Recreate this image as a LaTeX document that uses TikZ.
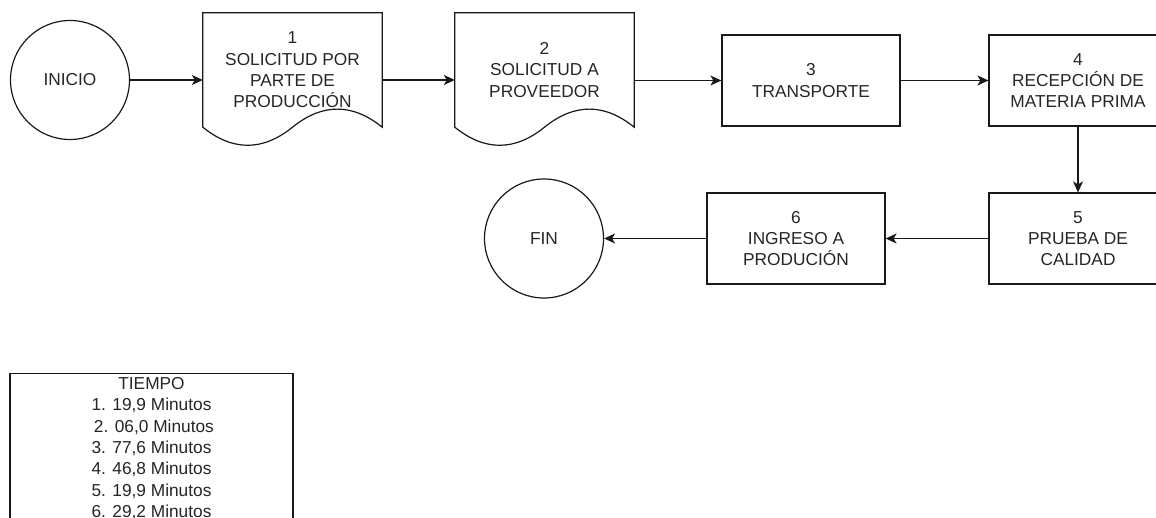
\documentclass[tikz,border=0pt]{standalone}
\usepackage{fontspec}
\setmainfont{Liberation Sans}
\usetikzlibrary{arrows.meta,calc}
\begin{document}
\begin{tikzpicture}[x=1pt,y=-1pt,
  every node/.style={font=\fontsize{17.3}{21.3}\selectfont, text=black!85, align=center, inner sep=0pt},
  shapeline/.style={draw=black!90, line width=1.2pt},
  circ/.style={shapeline, circle, minimum size=119pt},
  box/.style={shapeline, rectangle, minimum width=178pt, minimum height=91pt},
  docbody/.style={rectangle, minimum width=179pt, minimum height=114pt},
  flow/.style={draw=black!90, line width=1.2pt, -{Stealth[length=11pt,width=10pt,inset=3pt]}},
  docline/.style={shapeline, line join=miter}
]
\useasboundingbox (0,0) rectangle (1156,518);
\fill[white] (0,0) rectangle (1156,518);

% nodes
\node[circ] (ini) at (70,80) {INICIO};
\node[docbody] (d1) at (292.5,70) {1\\SOLICITUD POR\\PARTE DE\\PRODUCCIÓN};
\node[docbody] (d2) at (544.5,70) {2\\SOLICITUD A\\PROVEEDOR};
\node[box] (t3) at (811,80.5) {3\\TRANSPORTE};
\node[box] (r4) at (1078,80.5) {4\\RECEPCIÓN DE\\MATERIA PRIMA};
\node[box] (p5) at (1078,238.5) {5\\PRUEBA DE\\CALIDAD};
\node[box] (i6) at (796,238.5) {6\\INGRESO A\\PRODUCIÓN};
\node[circ] (fin) at (544,238.5) {FIN};
\node[shapeline, anchor=north, minimum width=283pt, inner ysep=4pt] (tiempo) at (151.5,373)
  {TIEMPO\\1. 19,9 Minutos\\\ 2. 06,0 Minutos\\3. 77,6 Minutos\\4. 46,8 Minutos\\5. 19,9 Minutos\\6. 29,2 Minutos\\[4pt]};

% document outlines
\foreach \d in {d1,d2}{
  \draw[docline] (\d.south west) -- (\d.north west) -- (\d.north east) -- (\d.south east)
    .. controls ($(\d.south east)+(-29.83,-24.12)$) and ($(\d.south)+(29.83,-24.12)$) .. (\d.south)
    .. controls ($(\d.south)+(-29.83,24.12)$) and ($(\d.south west)+(29.83,24.12)$) .. (\d.south west) -- cycle;
}

% connectors
\draw[flow] (ini.east) -- (d1.west |- ini.east);
\draw[flow] (d1.east |- ini.east) -- (d2.west |- ini.east);
\draw[flow] (d2.east |- t3.west) -- (t3.west);
\draw[flow] (t3.east) -- (r4.west);
\draw[flow] (r4.south) -- (p5.north);
\draw[flow] (p5.west) -- (i6.east);
\draw[flow] (i6.west) -- (fin.east);
\end{tikzpicture}
\end{document}
